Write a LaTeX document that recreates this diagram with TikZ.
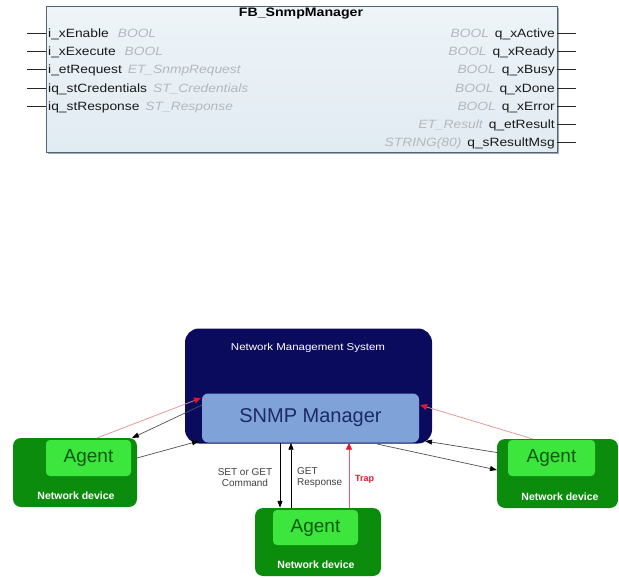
\documentclass[tikz,border=0pt]{standalone}
\usepackage{fontspec}
\setmainfont{Liberation Sans}
\newfontfamily\fbfont{Liberation Sans}[FakeStretch=1.15]
\usetikzlibrary{arrows.meta}
\definecolor{fbfill}{HTML}{E1EBF2}
\definecolor{fbtop}{HTML}{EEF4F8}
\definecolor{fbline}{HTML}{50667A}
\definecolor{typegray}{HTML}{B4B8BC}
\definecolor{navy}{HTML}{0B0B5E}
\definecolor{mgrblue}{HTML}{7FA3D8}
\definecolor{mgrtext}{HTML}{1C2A66}
\definecolor{devgreen}{HTML}{0C8C0C}
\definecolor{agentgreen}{HTML}{3CE63C}
\definecolor{agenttext}{HTML}{0B5A0B}
\definecolor{traplight}{HTML}{E29090}
\definecolor{trapred}{HTML}{E01830}
\definecolor{linegray}{HTML}{505050}
\begin{document}
\begin{tikzpicture}[x=1pt,y=-1pt,
  pinl/.style={anchor=base west,inner sep=0pt,font=\fbfont\fontsize{12}{14}\selectfont,text=black!90},
  pinr/.style={anchor=base east,inner sep=0pt,font=\fbfont\fontsize{12}{14}\selectfont,text=black!90},
  stub/.style={draw=black!85,line width=0.9pt},
  devbox/.style={draw=none,fill=devgreen,rounded corners=8pt},
  agentbox/.style={draw=none,fill=agentgreen,rounded corners=4pt,inner sep=0pt,
    font=\fontsize{19}{21}\selectfont,text=agenttext},
  devlabel/.style={text=white,font=\bfseries\fontsize{10.5}{12}\selectfont,inner sep=0pt},
  blk/.style={draw=linegray,line width=0.7pt,-{Triangle[length=7pt,width=5pt,color=black]}},
  vblk/.style={draw=black,line width=0.8pt,-{Triangle[length=7pt,width=5pt]}},
  redl/.style={draw=traplight,line width=0.7pt,-{Triangle[length=7pt,width=6pt,color=trapred,fill=trapred]}},
  small/.style={font=\fontsize{10}{11}\selectfont,text=black!75,inner sep=0pt,align=center}
]
\useasboundingbox (0,0) rectangle (619,578);

% ---------- Function block ----------
\fill[black!35] (48,8) rectangle (559,154);
\node[draw=fbline,line width=0.8pt,top color=fbtop,bottom color=fbfill,
  minimum width=511pt,minimum height=146pt,inner sep=0pt,anchor=north west] (fb) at (46,6) {};
\node[anchor=base,inner sep=0pt,font=\fbfont\bfseries\fontsize{12.3}{14}\selectfont] (fbtitle) at (301,17) {FB\_SnmpManager};

\node[pinl] (i1) at (48,37.5) {i\_xEnable\hspace{9pt}{\color{typegray}\itshape BOOL}};
\node[pinl] (i2) at (48,55.7) {i\_xExecute\hspace{9pt}{\color{typegray}\itshape BOOL}};
\node[pinl] (i3) at (48,73.9) {i\_etRequest\hspace{6pt}{\color{typegray}\itshape ET\_SnmpRequest}};
\node[pinl] (i4) at (48,92.1) {iq\_stCredentials\hspace{6pt}{\color{typegray}\itshape ST\_Credentials}};
\node[pinl] (i5) at (48,110.3) {iq\_stResponse\hspace{6pt}{\color{typegray}\itshape ST\_Response}};
\foreach \n/\y in {i1/33.5,i2/51.7,i3/69.9,i4/88.1,i5/106.3}
  \draw[stub] (27,\y) -- (46,\y);

\node[pinr] (o1) at (555,37.5) {{\color{typegray}\itshape BOOL}\hspace{6pt}q\_xActive};
\node[pinr] (o2) at (555,55.7) {{\color{typegray}\itshape BOOL}\hspace{6pt}q\_xReady};
\node[pinr] (o3) at (555,73.9) {{\color{typegray}\itshape BOOL}\hspace{6pt}q\_xBusy};
\node[pinr] (o4) at (555,92.1) {{\color{typegray}\itshape BOOL}\hspace{6pt}q\_xDone};
\node[pinr] (o5) at (555,110.3) {{\color{typegray}\itshape BOOL}\hspace{6pt}q\_xError};
\node[pinr] (o6) at (555,128.5) {{\color{typegray}\itshape ET\_Result}\hspace{6pt}q\_etResult};
\node[pinr] (o7) at (555,146.7) {{\color{typegray}\itshape STRING(80)}\hspace{6pt}q\_sResultMsg};
\foreach \y in {33.5,51.7,69.9,88.1,106.3,124.5,142.7}
  \draw[stub] (557,\y) -- (576,\y);

% ---------- SNMP diagram ----------
\node[fill=navy,rounded corners=14pt,minimum width=247pt,minimum height=115pt,inner sep=0pt] (nms) at (308.5,386) {};
\node[text=white,font=\fbfont\fontsize{10}{12}\selectfont,inner sep=0pt] (nmslabel) at (308,348) {Network Management System};
\node[fill=mgrblue,rounded corners=6pt,minimum width=217pt,minimum height=49pt,inner sep=0pt,
  text=mgrtext,font=\fontsize{20}{22}\selectfont] (mgr) at (310.5,418) {SNMP Manager};

% left device
\node[devbox,minimum width=124pt,minimum height=69pt] (devL) at (75,472.5) {};
\node[agentbox,minimum width=85pt,minimum height=36pt] (agL) at (88.5,458) {Agent};
\node[devlabel] (netL) at (76,495.5) {Network device};

% right device
\node[devbox,minimum width=121pt,minimum height=69pt] (devR) at (557.5,473.5) {};
\node[agentbox,minimum width=87pt,minimum height=36pt] (agR) at (551.5,458) {Agent};
\node[devlabel] (netR) at (560,497) {Network device};

% bottom device
\node[devbox,minimum width=126pt,minimum height=68pt] (devB) at (318,542) {};
\node[agentbox,minimum width=85pt,minimum height=35pt] (agB) at (315.5,527.5) {Agent};
\node[devlabel] (netB) at (316,565) {Network device};

% connector end points
\coordinate (mL1) at (202,405);
\coordinate (mL2) at (199,441);
\coordinate (mLr) at (201,398);
\coordinate (aL1) at (132,438);
\coordinate (aL2) at (137,458);
\coordinate (aLr) at (97,438);
\coordinate (mR1) at (425,441);
\coordinate (mR2) at (377,444);
\coordinate (mRr) at (420,405);
\coordinate (aR1) at (500,453);
\coordinate (aR2) at (497,470);
\coordinate (aRr) at (533,439);

% left device connectors
\draw[redl] (aLr) -- (mLr);
\draw[blk] (mL1) -- (aL1);
\draw[blk] (aL2) -- (mL2);
% right device connectors
\draw[redl] (aRr) -- (mRr);
\draw[blk] (aR1) -- (mR1);
\draw[blk] (mR2) -- (aR2);

% bottom device connectors
\draw[vblk] (mgr.south -| 280,0) -- (devB.north -| 280,0);
\draw[vblk] (devB.north -| 291,0) -- (mgr.south -| 291,0);
\draw[redl,draw=trapred!70!white,line width=0.9pt] (devB.north -| 349,0) -- (mgr.south -| 349,0);

\node[small] (lblcmd) at (245,477.5) {SET or GET\\Command};
\node[small,align=left,anchor=west] (lblresp) at (297,477.5) {GET\\Response};
\node[font=\bfseries\fontsize{9}{10}\selectfont,text=trapred,inner sep=0pt,anchor=west] (lbltrap) at (355,479) {Trap};
\end{tikzpicture}
\end{document}
